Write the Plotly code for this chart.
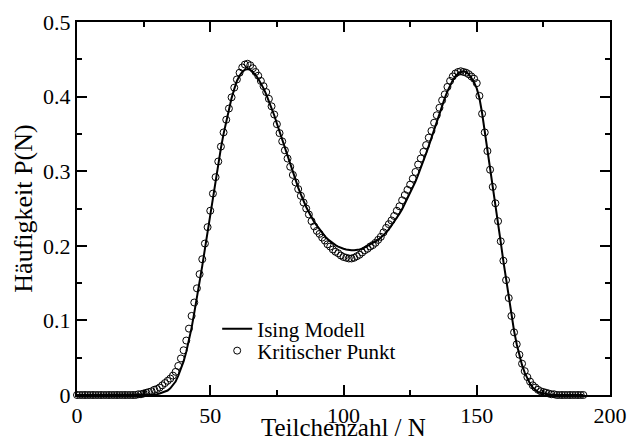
import plotly.graph_objects as go

N = list(range(0, 191))

kritischer_punkt = (
    [0.000] * 23 +
    [0.001, 0.001, 0.002, 0.003, 0.004, 0.005, 0.007, 0.008, 0.010, 0.013,
     0.016, 0.019, 0.022, 0.026, 0.031, 0.039, 0.049, 0.060, 0.073, 0.089,
     0.106, 0.124, 0.143, 0.162, 0.182, 0.203, 0.225, 0.247, 0.270, 0.292,
     0.313, 0.333, 0.352, 0.369, 0.384, 0.399, 0.412, 0.423, 0.432, 0.439,
     0.443, 0.444, 0.442, 0.438, 0.433, 0.428, 0.421, 0.414, 0.406, 0.397,
     0.387, 0.376, 0.363, 0.351, 0.340, 0.328, 0.317] +
    [0.306, 0.295, 0.285, 0.276, 0.267, 0.258, 0.250, 0.242, 0.233, 0.226,
     0.220, 0.216, 0.211, 0.207, 0.202, 0.199, 0.195, 0.192, 0.190, 0.187,
     0.185, 0.184, 0.183, 0.183, 0.184, 0.186, 0.188, 0.191, 0.194, 0.196] +
    [0.199, 0.201, 0.204, 0.208, 0.212, 0.218, 0.224, 0.229, 0.234, 0.240,
     0.247, 0.253, 0.261, 0.268, 0.275, 0.282, 0.290, 0.299, 0.309, 0.317,
     0.326, 0.335, 0.345, 0.354, 0.365, 0.375, 0.385, 0.395, 0.403, 0.413,
     0.421, 0.427, 0.431, 0.433, 0.434, 0.433, 0.432, 0.430, 0.427, 0.424] +
    [0.418, 0.401, 0.377, 0.352, 0.327, 0.302, 0.279, 0.257, 0.233, 0.206,
     0.180, 0.154, 0.130, 0.106, 0.084, 0.068, 0.054, 0.042, 0.032, 0.024,
     0.018, 0.013, 0.010, 0.007, 0.005, 0.004, 0.003, 0.002, 0.001, 0.001] +
    [0.000] * 11
)

ising_modell = (
    [0.000] * 30 +
    [0.001, 0.002, 0.003, 0.004, 0.006, 0.009, 0.013, 0.018, 0.026, 0.035,
     0.045, 0.058, 0.073, 0.090, 0.110, 0.130, 0.151, 0.173, 0.196, 0.219,
     0.243, 0.266, 0.289, 0.310, 0.331, 0.350, 0.367, 0.383, 0.398, 0.410] +
    [0.421, 0.428, 0.433, 0.436, 0.437, 0.436, 0.433, 0.429, 0.424, 0.418,
     0.411, 0.403, 0.394, 0.385, 0.375, 0.364, 0.353, 0.342, 0.331, 0.320] +
    [0.309, 0.298, 0.288, 0.278, 0.269, 0.260, 0.252, 0.245, 0.238, 0.232,
     0.227, 0.222, 0.217, 0.213, 0.209, 0.206, 0.203, 0.201, 0.199, 0.197,
     0.196, 0.195, 0.194, 0.194, 0.194, 0.194, 0.195, 0.196, 0.198, 0.199] +
    [0.201, 0.203, 0.205, 0.208, 0.211, 0.214, 0.218, 0.222, 0.227, 0.232,
     0.237, 0.243, 0.249, 0.256, 0.263, 0.270, 0.278, 0.286, 0.295, 0.304,
     0.314, 0.324, 0.334, 0.345, 0.356, 0.366, 0.377, 0.388, 0.398, 0.407,
     0.415, 0.422, 0.427, 0.431, 0.433, 0.434, 0.433, 0.430, 0.425, 0.419] +
    [0.411, 0.398, 0.378, 0.354, 0.329, 0.304, 0.280, 0.256, 0.231, 0.205,
     0.179, 0.154, 0.130, 0.107, 0.086, 0.068, 0.053, 0.040, 0.030, 0.022,
     0.015, 0.010, 0.007, 0.004, 0.003, 0.002, 0.001, 0.000, 0.000, 0.000] +
    [0.000] * 11
)

x_ticks = [0, 50, 100, 150, 200]
y_ticks = [0, 0.1, 0.2, 0.3, 0.4, 0.5]
y_tick_labels = ["0", "0.1", "0.2", "0.3", "0.4", "0.5"]
x_title = "Teilchenzahl / N"
y_title = "Häufigkeit P(N)"

FONT = "Liberation Serif"

fig = go.Figure()
fig.add_trace(go.Scatter(
    x=N, y=ising_modell, mode="lines", name="Ising Modell",
    line=dict(color="black", width=2), cliponaxis=False, legend="legend",
))
fig.add_trace(go.Scatter(
    x=N, y=kritischer_punkt, mode="markers", name="Kritischer Punkt",
    marker=dict(symbol="circle-open", size=7, color="black", line=dict(width=1, color="black")),
    cliponaxis=False, legend="legend2",
))

fig.update_xaxes(
    range=[0, 200], tickmode="array", tickvals=x_ticks, ticktext=[str(v) for v in x_ticks],
    showgrid=False, zeroline=False, showline=True, linecolor="black", linewidth=2,
    ticks="inside", ticklen=10, tickwidth=1.5, tickcolor="black", mirror="allticks",
    tickfont=dict(family=FONT, size=22, color="black"),
    minor=dict(dtick=25, tick0=0, ticks="inside", ticklen=5, tickwidth=1.5, tickcolor="black"),
)
fig.update_yaxes(
    range=[0, 0.5], tickmode="array", tickvals=y_ticks, ticktext=y_tick_labels,
    showgrid=False, zeroline=False, showline=True, linecolor="black", linewidth=2,
    ticks="inside", ticklen=10, tickwidth=1.5, tickcolor="black", mirror="allticks",
    tickfont=dict(family=FONT, size=22, color="black"),
    minor=dict(dtick=0.05, tick0=0, ticks="inside", ticklen=5, tickwidth=1.5, tickcolor="black"),
)

fig.add_annotation(
    text=x_title, xref="paper", yref="paper", x=0.5, y=-0.086,
    xanchor="center", yanchor="middle", showarrow=False, borderpad=0,
    font=dict(family=FONT, size=25, color="black"),
)
fig.add_annotation(
    text=y_title, xref="paper", yref="paper", x=-0.101, y=0.5,
    xanchor="center", yanchor="middle", showarrow=False, textangle=-90,
    font=dict(family=FONT, size=26, color="black"),
)

legend_style = dict(
    xanchor="left", yanchor="middle",
    font=dict(family=FONT, size=21, color="black"),
    bgcolor="rgba(0,0,0,0)", borderwidth=0,
)

fig.update_layout(
    width=628, height=442,
    font=dict(family=FONT, color="black"),
    margin=dict(l=77, r=18, t=22, b=47, autoexpand=False),
    paper_bgcolor="white", plot_bgcolor="white",
    showlegend=True,
    legend=dict(x=0.263, y=0.177, **legend_style),
    legend2=dict(x=0.263, y=0.118, **legend_style),
)

fig.write_html("out.html")
